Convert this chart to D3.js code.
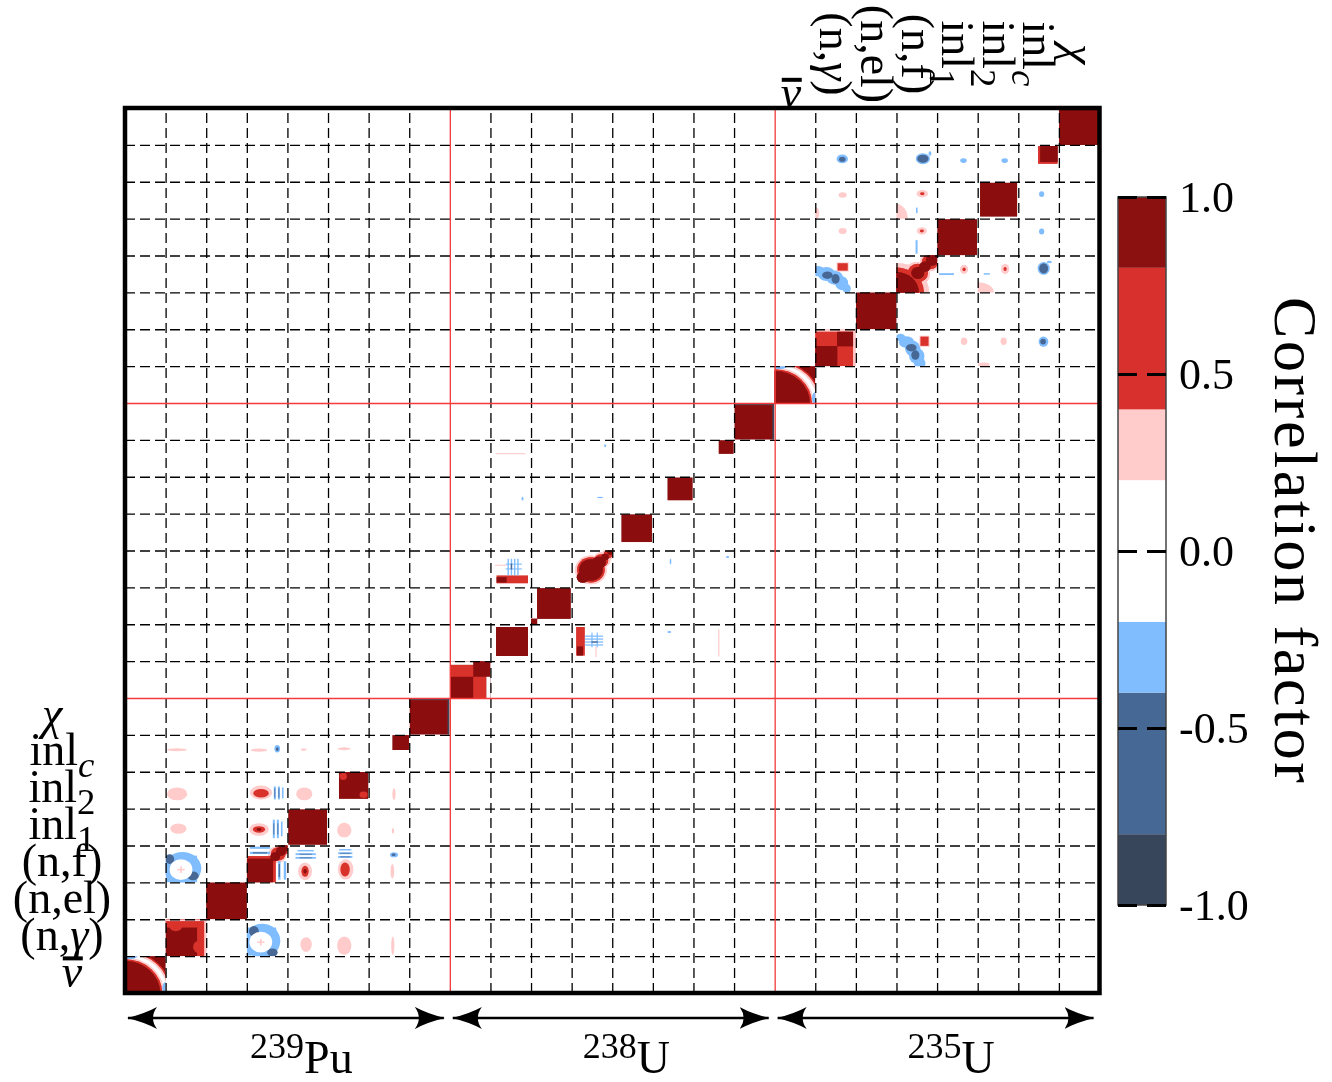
<!DOCTYPE html>
<html>
<head>
<meta charset="utf-8">
<title>Correlation matrix</title>
<script src="https://cdn.jsdelivr.net/npm/d3@7/dist/d3.min.js"></script>
<style>
    body { margin: 0; background: #fff; }
    svg text { font-family: "Liberation Serif", "DejaVu Serif", serif; fill: #000; }
</style>
</head>
<body>
<svg id="chart" width="1332" height="1082"></svg>
<script>
var nuclideMass = ['239', '238', '235'];
var nuclideSymbol = ['Pu', 'U', 'U'];
var reactions = ['nubar', '(n,γ)', '(n,el)', '(n,f)', 'inl_1', 'inl_2', 'inl_c', 'χ'];
var groups = 20; // energy groups per reaction block
var colorLevels = [-1, -0.8, -0.4, -0.2, 0.2, 0.4, 0.8, 1];
var colorTicks = [-1, -0.5, 0, 0.5, 1];

// [row reaction, col reaction, shape, a, b, c, d, correlation]
// 'r' = groups a..b along x and c..d along y, 'e' = centre (a, b) radii (c, d)
// only one half of the matrix is listed, the transposed half is drawn from it
var pu239Patches = [
    [0, 0, 'r', 0, 20, 0, 20, 0.9],
    [0, 0, 'e', 0, 0, 22.8, 22.8, 0.6],
    [0, 0, 'e', 0, 0, 22, 22, 0.3],
    [0, 0, 'e', 0, 0, 21, 21, 0],
    [0, 0, 'e', 0, 0, 19.2, 19.2, 0.3],
    [0, 0, 'e', 0, 0, 18.3, 18.3, 0.6],
    [0, 0, 'e', 0, 0, 17.3, 17.3, 0.9],
    [0, 0, 'e', 20, 2.5, 1.6, 3.5, -0.3],
    [1, 1, 'r', 0, 20, 0, 20, 0.9],
    [1, 1, 'r', 0, 20, 15.5, 20, 0.6],
    [1, 1, 'e', 17, 5, 3.5, 3.5, 0.6],
    [1, 1, 'r', 0, 20, 19, 20, 0.3],
    [2, 2, 'r', 0, 20, 0, 20, 0.9],
    [3, 3, 'e', 15, 15, 4.5, 4.5, 0.3],
    [3, 3, 'r', 0, 14.2, 0, 14.2, 0.6],
    [3, 3, 'e', 15.5, 15.5, 3.6, 3.6, 0.6],
    [3, 3, 'e', 18.5, 18.5, 3.2, 3.2, 0.6],
    [3, 3, 'r', 0, 12.8, 0, 12.8, 0.9],
    [3, 3, 'e', 14, 14, 2.4, 2.4, 0.9],
    [3, 3, 'e', 16.8, 16.8, 2.4, 2.4, 0.9],
    [3, 3, 'e', 19.5, 19.5, 2.6, 2.6, 0.9],
    [3, 3, 'r', 1.5, 11.5, 18.2, 19.4, -0.3],
    [3, 3, 'r', 1.5, 11.5, 15.4, 16.6, -0.3],
    [3, 3, 'r', 3, 10, 15.7, 16.3, -0.6],
    [4, 4, 'r', 0.5, 19.5, 0.5, 19.5, 0.9],
    [5, 5, 'r', 5.4, 19.8, 5.4, 19.8, 0.9],
    [5, 5, 'e', 7.5, 17.5, 1.8, 2, 0.6],
    [6, 6, 'r', 11.8, 19.8, 11.8, 19.8, 0.9],
    [7, 7, 'r', 0.3, 19.7, 0.3, 19.7, 0.9],
    [7, 7, 'r', 0.3, 19.7, 18.9, 19.7, -0.9],
    [3, 1, 'r', 0.3, 15.5, 0, 14.5, -0.3],
    [3, 1, 'e', 8.3, 7.6, 9.3, 8.9, -0.3],
    [3, 1, 'e', 2, 12.6, 2.2, 2.6, -0.6],
    [3, 1, 'e', 13.5, 3.5, 2.8, 2.4, -0.6],
    [3, 1, 'e', 7.6, 6.9, 5.6, 5.6, 0],
    [3, 1, 'r', 7.2, 8, 5.1, 8.7, 0.3],
    [3, 1, 'r', 5.8, 9.4, 6.5, 7.3, 0.3],
    [4, 1, 'e', 6.3, 9.2, 4, 2.8, 0.3],
    [5, 1, 'e', 5.7, 8, 5, 3.5, 0.3],
    [6, 1, 'e', 5.6, 11.9, 5, 0.8, 0.3],
    [4, 3, 'e', 6, 8.7, 4.8, 3.4, 0.3],
    [4, 3, 'e', 6, 8.7, 3, 1.8, 0.6],
    [4, 3, 'e', 6, 8.7, 1.2, 0.8, 0.9],
    [4, 3, 'r', 12.8, 13.8, 4, 14, -0.3],
    [4, 3, 'r', 14.8, 15.8, 4, 14, -0.3],
    [4, 3, 'r', 16.8, 17.6, 5, 13, -0.3],
    [4, 3, 'r', 13.1, 13.5, 6, 12, -0.6],
    [4, 3, 'r', 15.1, 15.5, 6, 12, -0.6],
    [5, 3, 'e', 7, 8.7, 5.5, 3.8, 0.3],
    [5, 3, 'e', 7, 8.4, 3.8, 2.3, 0.6],
    [5, 3, 'r', 13.3, 14.3, 5, 12, -0.3],
    [5, 3, 'r', 15.3, 16.3, 5, 12, -0.3],
    [5, 3, 'r', 17.3, 18.1, 5.5, 11.5, -0.3],
    [5, 3, 'r', 13.6, 14, 6, 11, -0.6],
    [5, 3, 'r', 15.6, 16, 6, 11, -0.6],
    [6, 3, 'e', 6, 11.7, 4, 0.9, 0.3],
    [6, 3, 'e', 15, 12.5, 1.4, 2, -0.3],
    [6, 3, 'e', 15, 12.3, 0.7, 1, -0.6],
    [5, 4, 'e', 8.3, 8, 4, 3.5, 0.3],
    [6, 4, 'e', 8, 12, 1.5, 0.6, 0.3],
    [6, 5, 'e', 7.9, 12.5, 3.2, 0.8, 0.3]
];

var u238Patches = [
    [0, 0, 'r', 0, 20, 0, 20, 0.9],
    [0, 0, 'r', 11.5, 18, 0, 11.5, 0.6],
    [0, 0, 'r', 18, 20, 0, 11.5, 0],
    [1, 1, 'r', 2.8, 18.5, 2.8, 18.5, 0.9],
    [2, 2, 'r', 3, 19.5, 3, 19.5, 0.9],
    [2, 2, 'r', 0, 3, 0, 3, 0.9],
    [3, 3, 'e', 9.5, 9.5, 7.8, 7.8, 0.3],
    [3, 3, 'e', 15, 15, 4.2, 4.2, 0.3],
    [3, 3, 'e', 18, 18, 3, 3, 0.3],
    [3, 3, 'e', 9.5, 9.5, 6.8, 6.8, 0.6],
    [3, 3, 'e', 14.5, 14.5, 3.5, 3.5, 0.6],
    [3, 3, 'e', 18, 18, 2.2, 2.2, 0.6],
    [3, 3, 'e', 9.5, 9.5, 5.8, 5.8, 0.9],
    [3, 3, 'e', 5.5, 5.5, 3, 3, 0.9],
    [3, 3, 'e', 13.5, 13.5, 3.3, 3.3, 0.9],
    [3, 3, 'e', 16.5, 16.5, 1.8, 1.8, 0.9],
    [3, 3, 'e', 19, 19, 1.3, 1.3, 0.9],
    [4, 4, 'r', 4.6, 19.5, 4.6, 19.5, 0.9],
    [5, 5, 'r', 7.3, 19.5, 7.3, 19.5, 0.9],
    [6, 6, 'r', 12.5, 19.7, 12.5, 19.7, 0.9],
    [7, 7, 'r', 0.3, 19.7, 0.3, 19.7, 0.9],
    [7, 7, 'r', 0.3, 19.7, 18.9, 19.7, -0.9],
    [3, 1, 'r', 3, 18.5, 2.2, 6.5, 0.6],
    [3, 1, 'r', 3, 8, 2.6, 5.6, 0.9],
    [3, 1, 'r', 8.4, 9.1, 6.5, 15.5, -0.3],
    [3, 1, 'r', 10, 10.7, 6.5, 15.5, -0.3],
    [3, 1, 'r', 11.6, 12.3, 6.5, 15.5, -0.3],
    [3, 1, 'r', 13.2, 13.9, 6.5, 15.5, -0.3],
    [3, 1, 'r', 7.5, 15.5, 12.3, 12.9, -0.3],
    [3, 1, 'r', 7.5, 15.5, 9.7, 10.3, -0.3],
    [3, 1, 'r', 10, 10.7, 9.7, 12.9, -0.6],
    [3, 1, 'r', 2.3, 8, 11.7, 12.3, 0.3],
    [6, 1, 'r', 2.5, 17.2, 12.2, 12.8, 0.3],
    [5, 1, 'e', 15.8, 8.1, 0.5, 1, -0.3],
    [5, 3, 'e', 14, 8.7, 1.6, 0.4, -0.3],
    [6, 3, 'e', 16.5, 16.8, 0.5, 0.8, -0.3]
];

var u235Patches = [
    [0, 0, 'r', 0, 20, 0, 20, 0.9],
    [0, 0, 'e', 0, 0, 22.8, 22.8, 0.6],
    [0, 0, 'e', 0, 0, 22, 22, 0.3],
    [0, 0, 'e', 0, 0, 21, 21, 0],
    [0, 0, 'e', 0, 0, 19.2, 19.2, 0.3],
    [0, 0, 'e', 0, 0, 18.3, 18.3, 0.6],
    [0, 0, 'e', 0, 0, 17.3, 17.3, 0.9],
    [0, 0, 'e', 20, 2.5, 1.6, 3.5, -0.3],
    [1, 1, 'r', 0, 20, 0, 20, 0.3],
    [1, 1, 'r', 0, 18.6, 0, 18.6, 0.6],
    [1, 1, 'r', 0, 10.8, 0, 10.8, 0.9],
    [1, 1, 'r', 10.8, 18.6, 10.8, 18.6, 0.9],
    [2, 2, 'r', 0, 20, 0, 20, 0.9],
    [3, 3, 'e', 0, 0, 16, 16, 0.3],
    [3, 3, 'e', 10, 10, 6.5, 6.5, 0.3],
    [3, 3, 'e', 16.5, 16.5, 5, 5, 0.3],
    [3, 3, 'e', 0, 0, 13.5, 13.5, 0.6],
    [3, 3, 'e', 10.5, 10.5, 5, 5, 0.6],
    [3, 3, 'e', 16.5, 16.5, 4, 4, 0.6],
    [3, 3, 'e', 0, 0, 11, 11, 0.9],
    [3, 3, 'e', 10.5, 10.5, 3.2, 3.2, 0.9],
    [3, 3, 'e', 14, 14, 2.8, 2.8, 0.9],
    [3, 3, 'e', 17.5, 17.5, 3, 3, 0.9],
    [3, 3, 'e', 20, 20, 3, 3, 0.9],
    [4, 4, 'r', 0.2, 19.6, 0.2, 19.6, 0.9],
    [5, 5, 'r', 1.2, 19.4, 1.2, 19.4, 0.9],
    [6, 6, 'r', 9.8, 19.3, 9.8, 19.3, 0.6],
    [6, 6, 'r', 10.8, 19.3, 10.8, 19.3, 0.9],
    [7, 7, 'r', 0, 20, 0, 20, 0.9],
    [7, 7, 'r', 0, 20, 19.2, 20, -0.9],
    [3, 1, 'e', 1.5, 11.5, 3.2, 2.8, -0.3],
    [3, 1, 'e', 5.5, 10, 4.2, 3.8, -0.3],
    [3, 1, 'e', 9.5, 8, 4.2, 3.8, -0.3],
    [3, 1, 'e', 13, 5, 3.2, 3.8, -0.3],
    [3, 1, 'e', 15.5, 2, 2, 2.5, -0.3],
    [3, 1, 'e', 6, 9.3, 2.6, 2, -0.6],
    [3, 1, 'e', 10, 7.3, 2, 2.6, -0.6],
    [3, 1, 'r', 10.5, 16.5, 11.3, 16.3, 0.3],
    [3, 1, 'r', 11, 16, 11.8, 15.8, 0.6],
    [4, 1, 'e', 13.5, 13.3, 2, 1.6, 0.3],
    [5, 1, 'e', 13.5, 12.8, 2, 1.5, 0.3],
    [5, 1, 'e', 0.8, 3, 1.2, 3, 0.3],
    [6, 1, 'e', 13.3, 12.4, 2.8, 2.4, -0.3],
    [6, 1, 'e', 13.3, 12.2, 1.6, 1.4, -0.6],
    [4, 3, 'e', 12.5, 13.3, 2.5, 2, 0.3],
    [4, 3, 'e', 12.5, 13.3, 1, 0.8, 0.6],
    [4, 3, 'r', 9.4, 10.4, 1, 8.3, -0.3],
    [5, 3, 'e', 0, 0, 5.5, 8, 0.3],
    [5, 3, 'e', 12.7, 13.5, 2.8, 2, 0.3],
    [5, 3, 'e', 12.7, 13.5, 1.1, 0.8, 0.6],
    [5, 3, 'r', 9.6, 10.4, 3, 6, -0.3],
    [6, 3, 'e', 13, 12.5, 3.5, 3, -0.3],
    [6, 3, 'e', 13, 12.5, 2.8, 2.2, -0.6],
    [6, 3, 'e', 16.5, 15.3, 0.7, 1.2, -0.3],
    [6, 4, 'e', 13, 11.5, 1.6, 1.3, -0.3],
    [6, 5, 'e', 13.3, 11.5, 1.6, 1.3, -0.3]
];

var plot = {left: 125, right: 1099.5, top: 108, bottom: 993};
var palette = ['#37465a', '#466894', '#80bdfe', '#ffffff', '#ffcbcb', '#d8302c', '#8b1111'];
var labelSize = 46;
var labelNudge = {nubar: 10, 'χ': -10};

var nReac = reactions.length,
    nTot = nReac * nuclideMass.length * groups;

var x = d3.scaleLinear().domain([0, nTot]).range([plot.left, plot.right]);
var y = d3.scaleLinear().domain([0, nTot]).range([plot.bottom, plot.top]);
var color = d3.scaleThreshold().domain(colorLevels.slice(1, -1)).range(palette);

var svg = d3.select('#chart');
var defs = svg.append('defs');

defs.append('filter').attr('id', 'soft')
    .append('feGaussianBlur').attr('stdDeviation', 0.6);

// expand every listed patch with its transposed twin
var patches = [];
[pu239Patches, u238Patches, u235Patches].forEach(function (list, k) {
    var o = k * nReac;
    list.forEach(function (p) {
        var r = p[0] + o, c = p[1] + o;
        patches.push([r, c, p[2], p[3], p[4], p[5], p[6], p[7]]);
        if (p[2] === 'r') {
            patches.push([c, r, 'r', p[5], p[6], p[3], p[4], p[7]]);
        } else {
            patches.push([c, r, 'e', p[4], p[3], p[6], p[5], p[7]]);
        }
    });
});

var heat = svg.append('g').attr('class', 'heat').attr('filter', 'url(#soft)');
d3.group(patches, function (p) { return p[0] + '-' + p[1]; }).forEach(function (list, key) {
    var r = list[0][0], c = list[0][1];
    var id = 'clip-' + key;
    defs.append('clipPath').attr('id', id).append('rect')
        .attr('x', x(c * groups))
        .attr('y', y((r + 1) * groups))
        .attr('width', x((c + 1) * groups) - x(c * groups))
        .attr('height', y(r * groups) - y((r + 1) * groups));

    var g = heat.append('g').attr('clip-path', 'url(#' + id + ')');
    list.forEach(function (p) {
        var gx = p[1] * groups, gy = p[0] * groups;
        if (p[2] === 'r') {
            g.append('rect')
                .attr('x', x(gx + p[3]))
                .attr('y', y(gy + p[6]))
                .attr('width', x(gx + p[4]) - x(gx + p[3]))
                .attr('height', y(gy + p[5]) - y(gy + p[6]))
                .attr('fill', color(p[7]));
        } else {
            g.append('ellipse')
                .attr('cx', x(gx + p[3]))
                .attr('cy', y(gy + p[4]))
                .attr('rx', x(p[5]) - x(0))
                .attr('ry', y(0) - y(p[6]))
                .attr('fill', color(p[7]));
        }
    });
});

// grid: dashed block edges, red nuclide edges
var cellEdges = d3.range(1, nReac * 3).filter(function (i) { return i % nReac; })
    .map(function (i) { return i * groups; });
var nucEdges = [1, 2].map(function (k) { return k * nReac * groups; });

function styleGrid(g, stroke, width, dash) {
    g.select('.domain').remove();
    g.selectAll('.tick line')
        .attr('stroke', stroke)
        .attr('stroke-width', width)
        .attr('stroke-dasharray', dash);
}

[[cellEdges, '#000', 1.3, '10,5'], [nucEdges, '#f43a3a', 1.3, null]].forEach(function (s) {
    svg.append('g')
        .attr('transform', 'translate(0,' + plot.bottom + ')')
        .call(d3.axisBottom(x).tickValues(s[0]).tickSize(-(plot.bottom - plot.top)).tickFormat(''))
        .call(styleGrid, s[1], s[2], s[3]);
    svg.append('g')
        .attr('transform', 'translate(' + plot.left + ',0)')
        .call(d3.axisLeft(y).tickValues(s[0]).tickSize(-(plot.right - plot.left)).tickFormat(''))
        .call(styleGrid, s[1], s[2], s[3]);
});

svg.append('rect')
    .attr('x', plot.left).attr('y', plot.top)
    .attr('width', plot.right - plot.left).attr('height', plot.bottom - plot.top)
    .attr('fill', 'none').attr('stroke', '#000').attr('stroke-width', 4.5);

// reaction labels
function writeLabel(text, name) {
    if (name === 'nubar') {
        text.append('tspan').attr('font-style', 'italic').text('ν');
        return;
    }
    var parts = name.split('_');
    parts[0].split(/([γχ])/).forEach(function (s) {
        if (s) text.append('tspan').attr('font-style', /[γχ]/.test(s) ? 'italic' : null).text(s);
    });
    if (parts[1]) {
        text.append('tspan').attr('font-size', '0.8em').attr('dy', '0.32em')
            .attr('font-style', parts[1] === 'c' ? 'italic' : null).text(parts[1]);
    }
}

function addBar(text, cy) {
    var b = text.node().getBBox();
    svg.append('rect')
        .attr('x', b.x + 1).attr('width', b.width - 1)
        .attr('y', cy + 0.33 * labelSize - 0.66 * labelSize).attr('height', 4)
        .attr('fill', '#000');
}

reactions.forEach(function (name, i) {
    var cy = (y(i * groups) + y((i + 1) * groups)) / 2 - 3;
    var t = svg.append('text')
        .attr('x', 62 + (labelNudge[name] || 0)).attr('y', cy).attr('dy', '0.33em')
        .attr('text-anchor', 'middle').attr('font-size', labelSize);
    writeLabel(t, name);
    if (name === 'nubar') addBar(t, cy);
});

reactions.forEach(function (name, i) {
    var c = 2 * nReac + i;
    var cx = (x(c * groups) + x((c + 1) * groups)) / 2;
    if (name === 'nubar') {
        var t = svg.append('text')
            .attr('x', cx - 4).attr('y', 93).attr('dy', '0.33em')
            .attr('text-anchor', 'middle').attr('font-size', labelSize);
        writeLabel(t, name);
        addBar(t, 93);
        return;
    }
    var t2 = svg.append('text')
        .attr('transform', 'translate(' + cx + ',54) rotate(90)')
        .attr('dy', '0.33em')
        .attr('text-anchor', 'middle').attr('font-size', labelSize);
    writeLabel(t2, name);
});

// nuclide arrows and names
var marker = defs.append('marker')
    .attr('id', 'head')
    .attr('viewBox', '0 -12 30 24')
    .attr('refX', 29).attr('refY', 0)
    .attr('markerWidth', 30).attr('markerHeight', 24)
    .attr('markerUnits', 'userSpaceOnUse')
    .attr('orient', 'auto-start-reverse');
marker.append('path')
    .attr('d', 'M0,-11 Q13,-4 30,0 Q13,4 0,11 Q8,0 0,-11Z')
    .attr('fill', '#000');

nuclideMass.forEach(function (mass, k) {
    var x0 = x(k * nReac * groups), x1 = x((k + 1) * nReac * groups);
    svg.append('line')
        .attr('x1', x0 + 3).attr('x2', x1 - 6)
        .attr('y1', 1018).attr('y2', 1018)
        .attr('stroke', '#000').attr('stroke-width', 2.5)
        .attr('marker-start', 'url(#head)').attr('marker-end', 'url(#head)');
    var t = svg.append('text')
        .attr('x', (x0 + x1) / 2 + 14).attr('y', 1073)
        .attr('text-anchor', 'middle');
    t.append('tspan').attr('font-size', 36).attr('dy', -15).text(mass);
    t.append('tspan').attr('font-size', 46).attr('dy', 15).text(nuclideSymbol[k]);
});

// colour bar
var cb = {x: 1118, w: 48, top: 197, bottom: 905};
var cbScale = d3.scaleLinear().domain([-1, 1]).range([cb.bottom, cb.top]);
var cbg = svg.append('g').attr('class', 'colorbar');

cbg.selectAll('rect.band')
    .data(d3.pairs(colorLevels))
    .join('rect')
    .attr('class', 'band')
    .attr('x', cb.x).attr('width', cb.w)
    .attr('y', function (d) { return cbScale(d[1]); })
    .attr('height', function (d) { return cbScale(d[0]) - cbScale(d[1]); })
    .attr('fill', function (d) { return color((d[0] + d[1]) / 2); });

cbg.append('rect')
    .attr('x', cb.x).attr('y', cb.top)
    .attr('width', cb.w).attr('height', cb.bottom - cb.top)
    .attr('fill', 'none').attr('stroke', '#444').attr('stroke-width', 1.5);

cbg.append('g')
    .attr('transform', 'translate(' + (cb.x + cb.w) + ',0)')
    .call(d3.axisRight(cbScale).tickValues(colorTicks).tickSize(-19).tickPadding(13)
        .tickFormat(function (d) { return d.toFixed(1); }))
    .call(function (g) {
        g.select('.domain').remove();
        g.attr('font-family', null).attr('font-size', 44);
        g.selectAll('.tick line').attr('stroke', '#000').attr('stroke-width', 3);
    });

cbg.append('g')
    .attr('transform', 'translate(' + cb.x + ',0)')
    .call(d3.axisLeft(cbScale).tickValues(colorTicks).tickSize(-19).tickFormat(''))
    .call(function (g) {
        g.select('.domain').remove();
        g.selectAll('.tick line').attr('stroke', '#000').attr('stroke-width', 3);
    });

svg.append('text')
    .attr('transform', 'translate(1275,540) rotate(90)')
    .attr('text-anchor', 'middle')
    .attr('font-size', 62)
    .attr('textLength', 486)
    .attr('lengthAdjust', 'spacing')
    .text('Correlation factor');
</script>
</body>
</html>
